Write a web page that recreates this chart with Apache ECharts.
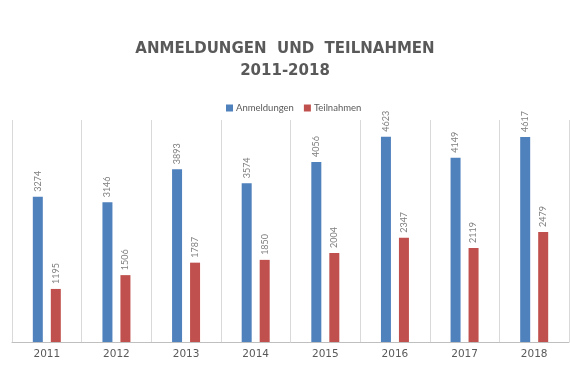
<!DOCTYPE html>
<html><head><meta charset="utf-8">
<script src="https://cdn.jsdelivr.net/npm/echarts@6/dist/echarts.min.js"></script>
<style>html,body{margin:0;padding:0;background:#fff}#c{width:570px;height:381px}</style>
</head><body><div id="c"></div>
<script>
const categories = ['2011','2012','2013','2014','2015','2016','2017','2018'];
const anmeldungen = [3274,3146,3893,3574,4056,4623,4149,4617];
const teilnahmen = [1195,1506,1787,1850,2004,2347,2119,2479];
const seriesNames = ['Anmeldungen','Teilnahmen'];
const titleText = 'ANMELDUNGEN  UND  TEILNAHMEN\n2011-2018';

const chart = echarts.init(document.getElementById('c'));
const labelCfg = {show:true, position:'top', rotate:90, align:'left', verticalAlign:'middle', distance:5, color:'#7f7f7f', fontSize:9, fontFamily:'Lato'};
chart.setOption({
  animation:false,
  title:{text:titleText, left:'center', top:33, textStyle:{fontFamily:'DejaVu Sans', fontWeight:'bold', fontSize:15, color:'#595959', lineHeight:22}},
  legend:{data:seriesNames, top:98, left:221, itemWidth:7, itemHeight:7, itemGap:10, icon:'rect', textStyle:{fontFamily:'Lato', fontSize:9.5, color:'#595959', padding:[0,0,0,-2]}},
  grid:{left:12, right:1, top:120, bottom:39, containLabel:false},
  xAxis:{type:'category', data:categories, boundaryGap:true,
    axisLine:{lineStyle:{color:'#bfbfbf'}}, axisTick:{show:false},
    splitLine:{show:true, lineStyle:{color:'#d9d9d9'}},
    axisLabel:{color:'#595959', fontSize:10.5, fontFamily:'DejaVu Sans', margin:7}},
  yAxis:{type:'value', min:0, max:5000, show:false, splitLine:{show:false}},
  series:[
    {name:seriesNames[0], type:'bar', data:anmeldungen, barWidth:10, barGap:'80%', itemStyle:{color:'#4f81bd'}, label:labelCfg},
    {name:seriesNames[1], type:'bar', data:teilnahmen, barWidth:10, barGap:'80%', itemStyle:{color:'#c0504d'}, label:labelCfg}
  ]
});
</script></body></html>
